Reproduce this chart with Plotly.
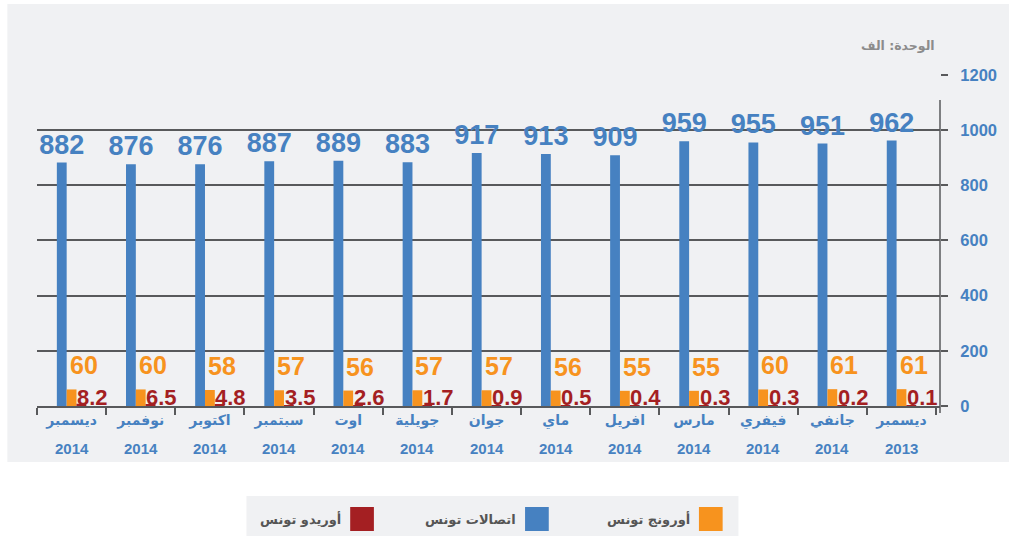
import plotly.graph_objects as go

# Categories in display order (right-to-left chronology: Dec 2014 on the left, Dec 2013 on the right)
months = ["ديسمبر", "نوفمبر", "اكتوبر", "سبتمبر", "اوت", "جويلية", "جوان",
          "ماي", "افريل", "مارس", "فيفري", "جانفي", "ديسمبر"]
years = ["2014", "2014", "2014", "2014", "2014", "2014", "2014",
         "2014", "2014", "2014", "2014", "2014", "2013"]

# Subscribers (thousands)
tunisie_telecom = [882, 876, 876, 887, 889, 883, 917, 913, 909, 959, 955, 951, 962]
orange_tunisie = [60, 60, 58, 57, 56, 57, 57, 56, 55, 55, 60, 61, 61]
ooredoo_tunisie = [8.2, 6.5, 4.8, 3.5, 2.6, 1.7, 0.9, 0.5, 0.4, 0.3, 0.3, 0.2, 0.1]

series_names = ["اتصالات تونس", "أورونج تونس", "أوريدو تونس"]
y_ticks = [0, 200, 400, 600, 800, 1000, 1200]
unit_label = "الوحدة: الف"

BLUE = "#4681c1"
ORANGE = "#f7931e"
RED = "#a41f22"
GRID = "#58595b"
BG = "#f0f1f3"
FONT = "Liberation Sans, DejaVu Sans, sans-serif"
AR_FONT = "DejaVu Sans, Liberation Sans, sans-serif"

keys = [f"{m} {y}" for m, y in zip(months, years)]

# design width; the figure is sized to the page width at load time
W, H = 1009, 536
L, R, T, B = 37, 58, 74, 130
PW, PH = W - L - R, H - T - B


def px(xp):
    return (xp - L) / PW


def py(yp):
    return (H - B - yp) / PH


fig = go.Figure()
fig.add_trace(go.Bar(
    x=keys, y=tunisie_telecom, name=series_names[0], marker_color=BLUE,
    text=[str(v) for v in tunisie_telecom], textposition="outside",
    constraintext="none",
    textfont=dict(family=FONT, size=27, color=BLUE, weight="bold"),
    cliponaxis=False, marker_line_width=0,
))
fig.add_trace(go.Bar(
    x=keys, y=orange_tunisie, name=series_names[1], marker_color=ORANGE,
    marker_line_width=0, cliponaxis=False,
))
fig.add_trace(go.Bar(
    x=keys, y=ooredoo_tunisie, name=series_names[2], marker_color=RED,
    marker_line_width=0, cliponaxis=False,
))

annotations = []
for k, v in zip(keys, orange_tunisie):
    annotations.append(dict(
        x=k, y=v, xref="x", yref="y", text=str(v), showarrow=False,
        xshift=12, yshift=24, xanchor="center", yanchor="middle",
        font=dict(family=FONT, size=25, color=ORANGE, weight="bold"),
    ))
for k, v in zip(keys, ooredoo_tunisie):
    annotations.append(dict(
        x=k, y=0, xref="x", yref="y", text=str(v), showarrow=False,
        xshift=21, yshift=9, xanchor="center", yanchor="middle",
        font=dict(family=FONT, size=22, color=RED, weight="bold"),
    ))

# year row under the month labels
for k, yr in zip(keys, years):
    annotations.append(dict(
        x=k, y=py(448), xref="x", yref="paper", text=yr, showarrow=False,
        xanchor="center", yanchor="middle",
        font=dict(family=FONT, size=15, color=BLUE, weight="bold"),
    ))
# unit label
annotations.append(dict(
    x=px(948), y=py(45), xref="paper", yref="paper", text=unit_label,
    showarrow=False, xanchor="right", yanchor="middle",
    font=dict(family=AR_FONT, size=12.5, color="#8c8c8c", weight="bold"),
))

# custom RTL legend (swatch to the right of the text)
legend_items = [
    (series_names[1], ORANGE, 707),
    (series_names[0], BLUE, 531),
    (series_names[2], RED, 354),
]

shapes = [
    # panel background
    dict(type="rect", xref="paper", yref="paper", x0=px(7), x1=px(1030),
         y0=py(462), y1=py(4), fillcolor=BG, line_width=0, layer="below"),
    # legend background
    dict(type="rect", xref="paper", yref="paper", x0=px(249), x1=px(747),
         y0=py(536), y1=py(496), fillcolor=BG, line_width=0, layer="below"),
    # right vertical axis line
    dict(type="line", xref="paper", yref="paper", x0=1, x1=1,
         y0=py(413), y1=py(100), line=dict(color=GRID, width=1.5)),
]
for name, col, x0 in legend_items:
    shapes.append(dict(type="rect", xref="paper", yref="paper",
                       x0=px(x0), x1=px(x0 + 24), y0=py(531), y1=py(507),
                       fillcolor=col, line_width=0))
    annotations.append(dict(
        x=px(x0 - 7), y=py(519), xref="paper", yref="paper", text=name,
        showarrow=False, xanchor="right", yanchor="middle",
        font=dict(family=AR_FONT, size=13, color="#555555", weight="bold"),
    ))

fig.update_layout(
    height=H, autosize=True,
    margin=dict(l=L, r=R, t=T, b=B, pad=0),
    paper_bgcolor="white", plot_bgcolor="rgba(0,0,0,0)",
    barmode="group", bargap=0.574, bargroupgap=0,
    showlegend=False,
    annotations=annotations, shapes=shapes,
    xaxis=dict(
        type="category", categoryorder="array", categoryarray=keys,
        tickvals=keys, ticktext=months,
        tickfont=dict(family=AR_FONT, size=14, color=BLUE, weight="bold"),
        showline=True, linecolor=GRID, linewidth=2,
        ticks="outside", tickson="boundaries", ticklen=7, tickwidth=1.5,
        tickcolor=GRID, showgrid=False, zeroline=False,
    ),
    yaxis=dict(
        side="right", range=[0, 1203], tickvals=y_ticks,
        tickfont=dict(family=FONT, size=16.5, color=BLUE, weight="bold"),
        showgrid=True, gridcolor=GRID, gridwidth=2,
        ticks="outside", ticklen=7, tickwidth=2, tickcolor=GRID,
        ticklabelstandoff=9, showline=False, zeroline=False,
    ),
)

# size the figure to the actual page width so the picture is stable
post = (
    "document.documentElement.style.overflow='hidden';"
    "document.body.style.margin='0';document.body.style.overflow='hidden';"
    "var gd=document.getElementById('{plot_id}');"
    "var w=document.documentElement.clientWidth||window.innerWidth;"
    "gd.style.width=w+'px';"
    "Plotly.relayout(gd,{width:w,height:%d});" % H
)

fig.write_html(
    "out.html",
    default_width="100%",
    default_height="%dpx" % H,
    config={"responsive": False, "displayModeBar": False},
    post_script=post,
)
